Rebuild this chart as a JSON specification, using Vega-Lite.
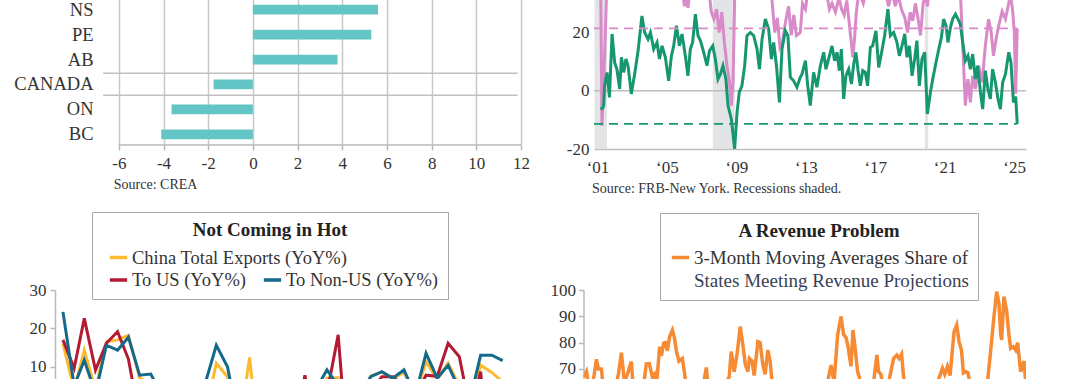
{
  "$schema": "https://vega.github.io/schema/vega-lite/v6.json",
  "background": "white",
  "padding": {"left": 10, "top": -1, "right": 0, "bottom": 0},
  "config": {
    "view": {"stroke": null},
    "font": "Liberation Serif",
    "axis": {"labelFont": "Liberation Serif", "titleFont": "Liberation Serif", "labelColor": "#333333", "labelFlush": false, "labelOverlap": false},
    "legend": {"labelFont": "Liberation Serif", "titleFont": "Liberation Serif"},
    "title": {"font": "Liberation Serif"}
  },
  "resolve": {"scale": {"color": "independent", "stroke": "independent"}, "legend": {"color": "independent", "stroke": "independent"}},
  "datasets": {
    "provinces": [
      {"province": "NS", "change": 5.6},
      {"province": "PE", "change": 5.3},
      {"province": "AB", "change": 3.79},
      {"province": "CANADA", "change": -1.76},
      {"province": "ON", "change": -3.64},
      {"province": "BC", "change": -4.1}
    ],
    "recessions": [
      {"start": 2001.12, "end": 2001.84},
      {"start": 2007.93, "end": 2009.2},
      {"start": 2020.15, "end": 2020.34}
    ],
    "green": [
      {"t": 2001.46, "v": -6.3}, {"t": 2001.58, "v": -6.0}, {"t": 2001.65, "v": -5.1}, {"t": 2001.70, "v": 1.7}, {"t": 2001.84, "v": 6.3},
      {"t": 2001.98, "v": -2.3}, {"t": 2002.13, "v": 19.5}, {"t": 2002.28, "v": 9.7}, {"t": 2002.41, "v": 7.4}, {"t": 2002.57, "v": 0.6},
      {"t": 2002.67, "v": 11.5}, {"t": 2002.80, "v": 6.3}, {"t": 2002.93, "v": 10.9}, {"t": 2003.05, "v": 8.6}, {"t": 2003.24, "v": -1.1},
      {"t": 2003.43, "v": 5.7}, {"t": 2003.62, "v": 13.2}, {"t": 2003.85, "v": 25.7}, {"t": 2004.01, "v": 20}, {"t": 2004.20, "v": 17.7},
      {"t": 2004.34, "v": 20}, {"t": 2004.53, "v": 14.3}, {"t": 2004.72, "v": 16.6}, {"t": 2004.86, "v": 10.9}, {"t": 2005.01, "v": 15.4},
      {"t": 2005.20, "v": 11.5}, {"t": 2005.39, "v": 3.4}, {"t": 2005.55, "v": 12}, {"t": 2005.68, "v": 15.4}, {"t": 2005.84, "v": 22.3},
      {"t": 2006.01, "v": 15.4}, {"t": 2006.16, "v": 19.5}, {"t": 2006.35, "v": 12}, {"t": 2006.50, "v": 5.1}, {"t": 2006.64, "v": 14.3},
      {"t": 2006.77, "v": 16.6}, {"t": 2006.93, "v": 26.3}, {"t": 2007.08, "v": 18.9}, {"t": 2007.22, "v": 17.2}, {"t": 2007.41, "v": 13.2},
      {"t": 2007.60, "v": 8.6}, {"t": 2007.74, "v": 13.7}, {"t": 2007.93, "v": 15.4}, {"t": 2008.08, "v": 10.9}, {"t": 2008.23, "v": 4},
      {"t": 2008.37, "v": 5.7}, {"t": 2008.52, "v": 8.6}, {"t": 2008.69, "v": 4}, {"t": 2008.81, "v": -5.1}, {"t": 2009.00, "v": -9.7},
      {"t": 2009.19, "v": -20}, {"t": 2009.33, "v": -7.4}, {"t": 2009.46, "v": -0.5}, {"t": 2009.61, "v": 1.7}, {"t": 2009.77, "v": 8.6},
      {"t": 2009.90, "v": 18.9}, {"t": 2010.10, "v": 20}, {"t": 2010.29, "v": 18.9}, {"t": 2010.48, "v": 14.3}, {"t": 2010.62, "v": 7.4},
      {"t": 2010.77, "v": 17.7}, {"t": 2010.96, "v": 24.6}, {"t": 2011.15, "v": 21.2}, {"t": 2011.31, "v": 10.9}, {"t": 2011.44, "v": 16.6},
      {"t": 2011.60, "v": 8.6}, {"t": 2011.77, "v": -4}, {"t": 2011.92, "v": 14.3}, {"t": 2012.11, "v": 20.6}, {"t": 2012.26, "v": 18.9},
      {"t": 2012.40, "v": 4.6}, {"t": 2012.59, "v": 3.4}, {"t": 2012.78, "v": 1.2}, {"t": 2012.97, "v": 4.6}, {"t": 2013.07, "v": 5.7},
      {"t": 2013.27, "v": 10.3}, {"t": 2013.40, "v": 1.7}, {"t": 2013.55, "v": -5.1}, {"t": 2013.74, "v": 6.3}, {"t": 2013.93, "v": 1.2},
      {"t": 2014.13, "v": 8.6}, {"t": 2014.32, "v": 13.2}, {"t": 2014.45, "v": 7.4}, {"t": 2014.65, "v": 12}, {"t": 2014.80, "v": 15.4},
      {"t": 2014.95, "v": 10.3}, {"t": 2015.09, "v": 13.2}, {"t": 2015.22, "v": 6.9}, {"t": 2015.34, "v": 14.3}, {"t": 2015.47, "v": -2.8},
      {"t": 2015.60, "v": 5.1}, {"t": 2015.76, "v": 7.4}, {"t": 2015.92, "v": 2.3}, {"t": 2016.05, "v": 9.2}, {"t": 2016.18, "v": 13.2},
      {"t": 2016.30, "v": 6.9}, {"t": 2016.43, "v": 1.7}, {"t": 2016.57, "v": 6.9}, {"t": 2016.72, "v": 6.3}, {"t": 2016.85, "v": 1.7},
      {"t": 2017.01, "v": 14.9}, {"t": 2017.14, "v": 15.4}, {"t": 2017.33, "v": 20.6}, {"t": 2017.49, "v": 8}, {"t": 2017.64, "v": 12.6},
      {"t": 2017.83, "v": 18.9}, {"t": 2018.02, "v": 28}, {"t": 2018.16, "v": 18.9}, {"t": 2018.35, "v": 20}, {"t": 2018.54, "v": 16.6},
      {"t": 2018.68, "v": 12}, {"t": 2018.83, "v": 15.4}, {"t": 2018.99, "v": 19.5}, {"t": 2019.12, "v": 11.5}, {"t": 2019.26, "v": 15.4},
      {"t": 2019.41, "v": 5.1}, {"t": 2019.56, "v": 10.9}, {"t": 2019.69, "v": 17.2}, {"t": 2019.83, "v": 1.7}, {"t": 2019.98, "v": 10.9},
      {"t": 2020.14, "v": 13.2}, {"t": 2020.29, "v": -8}, {"t": 2020.47, "v": -0.5}, {"t": 2020.62, "v": 4.6}, {"t": 2020.79, "v": 9.7},
      {"t": 2020.95, "v": 14.3}, {"t": 2021.10, "v": 18.3}, {"t": 2021.23, "v": 24.6}, {"t": 2021.37, "v": 22.3}, {"t": 2021.48, "v": 16.6},
      {"t": 2021.62, "v": 21.7}, {"t": 2021.75, "v": 24.6}, {"t": 2021.91, "v": 26.3}, {"t": 2022.06, "v": 24.6}, {"t": 2022.19, "v": 22.9},
      {"t": 2022.33, "v": 16.6}, {"t": 2022.48, "v": 10.3}, {"t": 2022.63, "v": 12}, {"t": 2022.77, "v": 7.4}, {"t": 2022.90, "v": 12.6},
      {"t": 2023.06, "v": 4}, {"t": 2023.19, "v": 8.6}, {"t": 2023.35, "v": -0.5}, {"t": 2023.48, "v": -6.3}, {"t": 2023.63, "v": 6.9},
      {"t": 2023.78, "v": 0.6}, {"t": 2023.92, "v": -2.8}, {"t": 2024.05, "v": 7.4}, {"t": 2024.21, "v": 2.9}, {"t": 2024.36, "v": -2.8},
      {"t": 2024.50, "v": -6.3}, {"t": 2024.63, "v": 2.9}, {"t": 2024.79, "v": 5.7}, {"t": 2024.98, "v": 13.2}, {"t": 2025.11, "v": 9.7},
      {"t": 2025.25, "v": -4}, {"t": 2025.38, "v": -2}, {"t": 2025.47, "v": -11.4}
    ],
    "pink": [
      {"t": 2001.46, "v": 45}, {"t": 2001.55, "v": -12}, {"t": 2001.70, "v": 12}, {"t": 2001.85, "v": 40}, {"t": 2002.5, "v": 50},
      {"t": 2003.5, "v": 45}, {"t": 2004.5, "v": 50}, {"t": 2005.5, "v": 42}, {"t": 2006.15, "v": 36}, {"t": 2006.30, "v": 29},
      {"t": 2006.40, "v": 32}, {"t": 2006.50, "v": 28.5}, {"t": 2006.65, "v": 36}, {"t": 2007.2, "v": 45}, {"t": 2007.70, "v": 35},
      {"t": 2007.85, "v": 27}, {"t": 2008.00, "v": 24.6}, {"t": 2008.15, "v": 28}, {"t": 2008.30, "v": 20}, {"t": 2008.45, "v": 27},
      {"t": 2008.60, "v": 16.6}, {"t": 2008.75, "v": 8.6}, {"t": 2008.90, "v": 2.9}, {"t": 2009.00, "v": -5.1}, {"t": 2009.10, "v": 3},
      {"t": 2009.22, "v": 40}, {"t": 2010.0, "v": 50}, {"t": 2010.8, "v": 45}, {"t": 2011.30, "v": 34}, {"t": 2011.50, "v": 20},
      {"t": 2011.65, "v": 25}, {"t": 2011.80, "v": 15}, {"t": 2011.95, "v": 17}, {"t": 2012.15, "v": 24.6}, {"t": 2012.30, "v": 29},
      {"t": 2012.45, "v": 19}, {"t": 2012.60, "v": 26}, {"t": 2012.75, "v": 18.9}, {"t": 2012.97, "v": 20}, {"t": 2013.10, "v": 30},
      {"t": 2013.27, "v": 28}, {"t": 2013.45, "v": 36}, {"t": 2014.0, "v": 36}, {"t": 2014.50, "v": 33}, {"t": 2014.65, "v": 28},
      {"t": 2014.80, "v": 30}, {"t": 2015.00, "v": 27}, {"t": 2015.20, "v": 32}, {"t": 2015.35, "v": 28}, {"t": 2015.50, "v": 26},
      {"t": 2015.65, "v": 31}, {"t": 2015.85, "v": 20}, {"t": 2016.00, "v": 11.5}, {"t": 2016.10, "v": 18}, {"t": 2016.20, "v": 27},
      {"t": 2016.35, "v": 34}, {"t": 2016.60, "v": 30}, {"t": 2016.80, "v": 35}, {"t": 2017.3, "v": 40}, {"t": 2017.95, "v": 32},
      {"t": 2018.05, "v": 29}, {"t": 2018.25, "v": 34}, {"t": 2018.45, "v": 29}, {"t": 2018.60, "v": 33}, {"t": 2018.80, "v": 28},
      {"t": 2019.00, "v": 25}, {"t": 2019.15, "v": 20}, {"t": 2019.30, "v": 27}, {"t": 2019.45, "v": 24}, {"t": 2019.60, "v": 30},
      {"t": 2019.75, "v": 25}, {"t": 2019.90, "v": 19}, {"t": 2020.05, "v": 30}, {"t": 2020.20, "v": 33}, {"t": 2020.30, "v": 29},
      {"t": 2020.45, "v": 40}, {"t": 2021.2, "v": 50}, {"t": 2022.10, "v": 40}, {"t": 2022.20, "v": 33}, {"t": 2022.38, "v": 8.6},
      {"t": 2022.48, "v": -5.1}, {"t": 2022.63, "v": 4}, {"t": 2022.77, "v": -4}, {"t": 2022.90, "v": 5.1}, {"t": 2023.06, "v": 0.6},
      {"t": 2023.25, "v": 8.6}, {"t": 2023.45, "v": 2.9}, {"t": 2023.63, "v": 15.4}, {"t": 2023.82, "v": 24.6}, {"t": 2023.97, "v": 20},
      {"t": 2024.10, "v": 12}, {"t": 2024.25, "v": 17.7}, {"t": 2024.40, "v": 22.3}, {"t": 2024.60, "v": 27.2}, {"t": 2024.79, "v": 24.6},
      {"t": 2024.95, "v": 29.2}, {"t": 2025.07, "v": 33}, {"t": 2025.20, "v": 28}, {"t": 2025.30, "v": 20}, {"t": 2025.38, "v": -1},
      {"t": 2025.47, "v": 21.4}
    ],
    "china": [
      {"month": "2022-01-01", "China Total Exports (YoY%)": 16, "To US (YoY%)": 17, "To Non-US (YoY%)": 24.3},
      {"month": "2022-02-01", "China Total Exports (YoY%)": 4, "To US (YoY%)": 9.6, "To Non-US (YoY%)": 5},
      {"month": "2022-03-01", "China Total Exports (YoY%)": 14.3, "To US (YoY%)": 22.6, "To Non-US (YoY%)": 11.7},
      {"month": "2022-04-01", "China Total Exports (YoY%)": 4, "To US (YoY%)": 9.1, "To Non-US (YoY%)": 3},
      {"month": "2022-05-01", "China Total Exports (YoY%)": 16.5, "To US (YoY%)": 16.1, "To Non-US (YoY%)": 15.6},
      {"month": "2022-06-01", "China Total Exports (YoY%)": 17, "To US (YoY%)": 19.1, "To Non-US (YoY%)": 14.3},
      {"month": "2022-07-01", "China Total Exports (YoY%)": 18.2, "To US (YoY%)": 12, "To Non-US (YoY%)": 17.7},
      {"month": "2022-08-01", "China Total Exports (YoY%)": 7, "To US (YoY%)": -3.8, "To Non-US (YoY%)": 7.8},
      {"month": "2022-09-01", "China Total Exports (YoY%)": 5.7, "To US (YoY%)": -11.6, "To Non-US (YoY%)": 8.1},
      {"month": "2022-10-01", "China Total Exports (YoY%)": -0.3, "To US (YoY%)": -12.6, "To Non-US (YoY%)": 2.5},
      {"month": "2022-11-01", "China Total Exports (YoY%)": -8.7, "To US (YoY%)": -25.4, "To Non-US (YoY%)": -4},
      {"month": "2022-12-01", "China Total Exports (YoY%)": -9.9, "To US (YoY%)": -19.5, "To Non-US (YoY%)": -7.5},
      {"month": "2023-01-01", "China Total Exports (YoY%)": -10, "To US (YoY%)": -21.8, "To Non-US (YoY%)": -6},
      {"month": "2023-02-01", "China Total Exports (YoY%)": -1.3, "To US (YoY%)": -16, "To Non-US (YoY%)": 6.5},
      {"month": "2023-03-01", "China Total Exports (YoY%)": 10.9, "To US (YoY%)": -7.7, "To Non-US (YoY%)": 15.6},
      {"month": "2023-04-01", "China Total Exports (YoY%)": 7.4, "To US (YoY%)": -6.5, "To Non-US (YoY%)": 10},
      {"month": "2023-05-01", "China Total Exports (YoY%)": -7.5, "To US (YoY%)": -18.2, "To Non-US (YoY%)": -4.5},
      {"month": "2023-06-01", "China Total Exports (YoY%)": 12.4, "To US (YoY%)": -23.7, "To Non-US (YoY%)": 3},
      {"month": "2023-07-01", "China Total Exports (YoY%)": -14.5, "To US (YoY%)": -23.1, "To Non-US (YoY%)": -12},
      {"month": "2023-08-01", "China Total Exports (YoY%)": -8.8, "To US (YoY%)": -9.5, "To Non-US (YoY%)": -8.6},
      {"month": "2023-09-01", "China Total Exports (YoY%)": -6.2, "To US (YoY%)": -9.3, "To Non-US (YoY%)": -5.5},
      {"month": "2023-10-01", "China Total Exports (YoY%)": -6.4, "To US (YoY%)": -8.2, "To Non-US (YoY%)": -6},
      {"month": "2023-11-01", "China Total Exports (YoY%)": 0.5, "To US (YoY%)": 7.8, "To Non-US (YoY%)": -1},
      {"month": "2023-12-01", "China Total Exports (YoY%)": 2.3, "To US (YoY%)": -6.9, "To Non-US (YoY%)": 4},
      {"month": "2024-01-01", "China Total Exports (YoY%)": 7, "To US (YoY%)": 3, "To Non-US (YoY%)": 9.2},
      {"month": "2024-02-01", "China Total Exports (YoY%)": 7.1, "To US (YoY%)": 18.3, "To Non-US (YoY%)": 5},
      {"month": "2024-03-01", "China Total Exports (YoY%)": -7.5, "To US (YoY%)": -15.8, "To Non-US (YoY%)": -5},
      {"month": "2024-04-01", "China Total Exports (YoY%)": 1.5, "To US (YoY%)": -2.8, "To Non-US (YoY%)": 2.6},
      {"month": "2024-05-01", "China Total Exports (YoY%)": 7.6, "To US (YoY%)": 3.6, "To Non-US (YoY%)": 7.4},
      {"month": "2024-06-01", "China Total Exports (YoY%)": 8.6, "To US (YoY%)": 7.4, "To Non-US (YoY%)": 8.7},
      {"month": "2024-07-01", "China Total Exports (YoY%)": 7, "To US (YoY%)": 7.4, "To Non-US (YoY%)": 7},
      {"month": "2024-08-01", "China Total Exports (YoY%)": 8.5, "To US (YoY%)": 4.9, "To Non-US (YoY%)": 9.2},
      {"month": "2024-09-01", "China Total Exports (YoY%)": 2.4, "To US (YoY%)": 2.2, "To Non-US (YoY%)": 2.5},
      {"month": "2024-10-01", "China Total Exports (YoY%)": 11.3, "To US (YoY%)": 7.8, "To Non-US (YoY%)": 13.5},
      {"month": "2024-11-01", "China Total Exports (YoY%)": 6.7, "To US (YoY%)": 7.5, "To Non-US (YoY%)": 7},
      {"month": "2024-12-01", "China Total Exports (YoY%)": 10.9, "To US (YoY%)": 16.1, "To Non-US (YoY%)": 10.4},
      {"month": "2025-01-01", "China Total Exports (YoY%)": 5, "To US (YoY%)": 12.6, "To Non-US (YoY%)": 4},
      {"month": "2025-02-01", "China Total Exports (YoY%)": 1, "To US (YoY%)": -2, "To Non-US (YoY%)": 2},
      {"month": "2025-03-01", "China Total Exports (YoY%)": 10.4, "To US (YoY%)": 8.7, "To Non-US (YoY%)": 13},
      {"month": "2025-04-01", "China Total Exports (YoY%)": 8.5, "To US (YoY%)": -21, "To Non-US (YoY%)": 13},
      {"month": "2025-05-01", "China Total Exports (YoY%)": 6, "To US (YoY%)": -34.5, "To Non-US (YoY%)": 11.6}
    ],
    "revenue": [
      {"t": 1990.04, "v": 67}, {"t": 1990.24, "v": 69}, {"t": 1990.48, "v": 62}, {"t": 1990.80, "v": 66}, {"t": 1991.04, "v": 73.7},
      {"t": 1991.20, "v": 70}, {"t": 1991.44, "v": 70}, {"t": 1991.60, "v": 62}, {"t": 1992.08, "v": 58}, {"t": 1992.56, "v": 63},
      {"t": 1992.80, "v": 68}, {"t": 1993.04, "v": 76.2}, {"t": 1993.28, "v": 65}, {"t": 1993.52, "v": 68}, {"t": 1993.84, "v": 72.8},
      {"t": 1994.00, "v": 62}, {"t": 1994.48, "v": 60}, {"t": 1994.88, "v": 66}, {"t": 1995.04, "v": 71.9}, {"t": 1995.28, "v": 72},
      {"t": 1995.52, "v": 67}, {"t": 1995.68, "v": 68}, {"t": 1995.84, "v": 63}, {"t": 1996.11, "v": 78.5}, {"t": 1996.25, "v": 75},
      {"t": 1996.43, "v": 79.8}, {"t": 1996.57, "v": 80}, {"t": 1996.73, "v": 76.9}, {"t": 1996.91, "v": 82.3}, {"t": 1997.13, "v": 84.8},
      {"t": 1997.29, "v": 82}, {"t": 1997.45, "v": 76.9}, {"t": 1997.66, "v": 73}, {"t": 1997.93, "v": 74}, {"t": 1998.09, "v": 69},
      {"t": 1998.25, "v": 63}, {"t": 1998.65, "v": 58}, {"t": 1999.21, "v": 62}, {"t": 1999.69, "v": 66}, {"t": 1999.85, "v": 70.6},
      {"t": 2000.01, "v": 63}, {"t": 2000.41, "v": 55}, {"t": 2000.89, "v": 60}, {"t": 2001.37, "v": 64}, {"t": 2001.69, "v": 67},
      {"t": 2001.85, "v": 76.6}, {"t": 2002.09, "v": 69}, {"t": 2002.33, "v": 76}, {"t": 2002.57, "v": 86.1}, {"t": 2002.79, "v": 79},
      {"t": 2002.99, "v": 71.5}, {"t": 2003.19, "v": 69}, {"t": 2003.31, "v": 74}, {"t": 2003.53, "v": 73}, {"t": 2003.69, "v": 67.5},
      {"t": 2003.99, "v": 80.4}, {"t": 2004.17, "v": 80}, {"t": 2004.39, "v": 71.5}, {"t": 2004.57, "v": 68}, {"t": 2004.79, "v": 77.2},
      {"t": 2004.97, "v": 73}, {"t": 2005.13, "v": 65}, {"t": 2005.53, "v": 58}, {"t": 2006.17, "v": 55}, {"t": 2006.81, "v": 60},
      {"t": 2007.45, "v": 57}, {"t": 2008.09, "v": 62}, {"t": 2008.65, "v": 58}, {"t": 2009.22, "v": 63}, {"t": 2009.62, "v": 66},
      {"t": 2009.86, "v": 71.5}, {"t": 2010.10, "v": 65}, {"t": 2010.39, "v": 83}, {"t": 2010.66, "v": 89.9}, {"t": 2010.87, "v": 83},
      {"t": 2011.06, "v": 82}, {"t": 2011.24, "v": 78}, {"t": 2011.46, "v": 71}, {"t": 2011.62, "v": 84.8}, {"t": 2011.80, "v": 77.5},
      {"t": 2011.99, "v": 69}, {"t": 2012.12, "v": 67}, {"t": 2012.26, "v": 63}, {"t": 2012.74, "v": 58}, {"t": 2013.22, "v": 63},
      {"t": 2013.54, "v": 75.3}, {"t": 2013.67, "v": 69}, {"t": 2013.86, "v": 68}, {"t": 2014.00, "v": 64}, {"t": 2014.34, "v": 62},
      {"t": 2014.66, "v": 69}, {"t": 2014.88, "v": 74}, {"t": 2015.14, "v": 75.3}, {"t": 2015.32, "v": 74}, {"t": 2015.52, "v": 75.7},
      {"t": 2015.68, "v": 67}, {"t": 2015.86, "v": 63}, {"t": 2016.42, "v": 57}, {"t": 2017.06, "v": 60}, {"t": 2017.70, "v": 58},
      {"t": 2018.26, "v": 63}, {"t": 2018.80, "v": 70.3}, {"t": 2018.98, "v": 68}, {"t": 2019.20, "v": 71}, {"t": 2019.41, "v": 67.5},
      {"t": 2019.73, "v": 84.2}, {"t": 2019.94, "v": 86.7}, {"t": 2020.13, "v": 80.4}, {"t": 2020.32, "v": 77.2}, {"t": 2020.48, "v": 68.5},
      {"t": 2020.66, "v": 69}, {"t": 2020.85, "v": 68.5}, {"t": 2021.06, "v": 63}, {"t": 2021.54, "v": 60}, {"t": 2021.87, "v": 64},
      {"t": 2022.43, "v": 66}, {"t": 2022.67, "v": 77.2}, {"t": 2022.93, "v": 89.9}, {"t": 2023.15, "v": 99.4}, {"t": 2023.33, "v": 94.8},
      {"t": 2023.47, "v": 83}, {"t": 2023.55, "v": 81}, {"t": 2023.73, "v": 97.5}, {"t": 2023.95, "v": 92}, {"t": 2024.13, "v": 83},
      {"t": 2024.27, "v": 77.8}, {"t": 2024.48, "v": 78.5}, {"t": 2024.67, "v": 77.2}, {"t": 2024.83, "v": 80}, {"t": 2025.07, "v": 69},
      {"t": 2025.35, "v": 73}, {"t": 2025.49, "v": 64}
    ]
  },
  "spacing": 15,
  "vconcat": [
    {
      "spacing": 31,
      "resolve": {"scale": {"color": "independent", "stroke": "independent"}, "legend": {"color": "independent", "stroke": "independent"}},
      "hconcat": [
        {
          "width": 466,
          "height": 146,
          "title": {"text": "Source: CREA", "orient": "bottom", "anchor": "start", "frame": "group", "fontSize": 14, "fontWeight": "normal", "color": "#333333", "offset": 7, "dx": 58.8},
          "layer": [
            {
              "data": {"name": "provinces"},
              "mark": {"type": "bar", "color": "#63c5c6"},
              "encoding": {
                "y": {"field": "province", "type": "nominal", "title": null, "sort": ["NS", "PE", "AB", "CANADA", "ON", "BC"],
                      "scale": {"paddingInner": 0.61, "paddingOuter": 0.235},
                      "axis": {"domain": false, "ticks": false, "labelFontSize": 18.5, "labelPadding": -38, "minExtent": 45, "labelColor": "#333333"}},
                "x": {"field": "change", "type": "quantitative", "title": null,
                      "scale": {"domain": [-8.856, 12], "nice": false, "zero": false},
                      "axis": {"values": [-6, -4, -2, 0, 2, 4, 6, 8, 10, 12], "labelExpr": "toString(datum.value)", "grid": true, "gridColor": "#c8c8c8", "gridWidth": 1.5,
                               "domain": false, "tickColor": "#b8b8b8", "tickWidth": 1.5, "tickSize": 5,
                               "labelFontSize": 17, "labelPadding": 5}}
              }
            },
            {
              "data": {"values": [{"province": "CANADA", "from": -6.7, "to": 11.85}]},
              "mark": {"type": "rule", "color": "#c0c0c0", "strokeWidth": 1.5, "clip": false},
              "encoding": {
                "y": {"field": "province", "type": "nominal", "title": null, "sort": ["NS", "PE", "AB", "CANADA", "ON", "BC"], "bandPosition": -0.65},
                "x": {"field": "from", "type": "quantitative", "title": null},
                "x2": {"field": "to"}
              }
            },
            {
              "data": {"values": [{"province": "CANADA", "from": -6.7, "to": 11.85}]},
              "mark": {"type": "rule", "color": "#c0c0c0", "strokeWidth": 1.5, "clip": false},
              "encoding": {
                "y": {"field": "province", "type": "nominal", "title": null, "sort": ["NS", "PE", "AB", "CANADA", "ON", "BC"], "bandPosition": 1.6},
                "x": {"field": "from", "type": "quantitative", "title": null},
                "x2": {"field": "to"}
              }
            },
            {
              "data": {"values": [{"province": "BC", "from": -6, "to": 12}]},
              "mark": {"type": "rule", "color": "#b8b8b8", "strokeWidth": 1.5, "clip": false},
              "encoding": {
                "y": {"field": "province", "type": "nominal", "title": null, "sort": ["NS", "PE", "AB", "CANADA", "ON", "BC"], "bandPosition": 1.61},
                "x": {"field": "from", "type": "quantitative", "title": null},
                "x2": {"field": "to"}
              }
            }
          ]
        },
        {
          "width": 432.1,
          "height": 150,
          "title": {"text": "Source: FRB-New York. Recessions shaded.", "orient": "bottom", "anchor": "start", "frame": "group", "fontSize": 14, "fontWeight": "normal", "color": "#333333", "offset": 7, "dx": -2},
          "layer": [
            {
              "data": {"name": "recessions"},
              "mark": {"type": "rect", "color": "#e3e4e6"},
              "encoding": {
                "x": {"field": "start", "type": "quantitative", "title": null,
                      "scale": {"domain": [2001.09, 2025.98], "nice": false, "zero": false},
                      "axis": {"values": [2001.29, 2005.29, 2009.29, 2013.29, 2017.29, 2021.29, 2025.29],
                               "labelExpr": "'‘' + substring(toString(floor(datum.value)), 2, 4)",
                               "grid": false, "ticks": false, "domainColor": "#c0c0c0", "domainWidth": 1.5,
                               "labelFontSize": 17, "labelPadding": 10}},
                "x2": {"field": "end"}
              }
            },
            {
              "data": {"values": [{"v": 0}]},
              "mark": {"type": "rule", "color": "#bdbdbd", "strokeWidth": 1.5},
              "encoding": {
                "y": {"field": "v", "type": "quantitative", "title": null,
                      "scale": {"domain": [-20, 31.5], "nice": false, "zero": false},
                      "axis": {"values": [-20, -10, 0, 10, 20, 30], "labelExpr": "toString(datum.value)", "grid": false, "ticks": false, "domain": false,
                               "labelFontSize": 17, "labelPadding": 5, "minExtent": 32.7}}
              }
            },
            {
              "data": {"name": "pink"},
              "mark": {"type": "line", "color": "#d98ac9", "strokeWidth": 3, "clip": true},
              "encoding": {
                "x": {"field": "t", "type": "quantitative", "title": null},
                "y": {"field": "v", "type": "quantitative", "title": null}
              }
            },
            {
              "data": {"name": "green"},
              "mark": {"type": "line", "color": "#16976f", "strokeWidth": 3, "clip": true},
              "encoding": {
                "x": {"field": "t", "type": "quantitative", "title": null},
                "y": {"field": "v", "type": "quantitative", "title": null}
              }
            },
            {
              "data": {"values": [{"v": 21.4, "a": 2001.09, "b": 2025.47}]},
              "mark": {"type": "rule", "color": "#d98ac9", "strokeWidth": 1.8, "strokeDash": [9, 6]},
              "encoding": {
                "y": {"field": "v", "type": "quantitative", "title": null},
                "x": {"field": "a", "type": "quantitative", "title": null},
                "x2": {"field": "b"}
              }
            },
            {
              "data": {"values": [{"v": -11.4, "a": 2001.09, "b": 2025.47}]},
              "mark": {"type": "rule", "color": "#16976f", "strokeWidth": 1.8, "strokeDash": [9, 6]},
              "encoding": {
                "y": {"field": "v", "type": "quantitative", "title": null},
                "x": {"field": "a", "type": "quantitative", "title": null},
                "x2": {"field": "b"}
              }
            }
          ]
        }
      ]
    },
    {
      "spacing": 38.5,
      "resolve": {"scale": {"color": "independent", "stroke": "independent"}, "legend": {"color": "independent", "stroke": "independent"}},
      "hconcat": [
        {
          "width": 453.5,
          "height": 89,
          "data": {"name": "china"},
          "encoding": {
            "x": {"field": "month", "type": "temporal", "title": null,
                  "scale": {"domain": [{"year": 2021, "month": 12, "date": 10}, {"year": 2025, "month": 5, "date": 17}]},
                  "axis": null}
          },
          "layer": [
            {
              "transform": [{"fold": ["China Total Exports (YoY%)"], "as": ["series", "value"]}],
              "mark": {"type": "line", "strokeWidth": 3, "clip": true},
              "encoding": {
                "y": {"field": "value", "type": "quantitative", "title": null,
                      "scale": {"domain": [6.8, 30], "nice": false, "zero": false},
                      "axis": {"values": [10, 20, 30], "grid": false, "domainColor": "#b8b8b8", "domainWidth": 1.5,
                               "tickColor": "#b8b8b8", "tickWidth": 1.5, "tickSize": 5, "labelFontSize": 17, "labelPadding": 4, "minExtent": 45}},
                "stroke": {"field": "series", "type": "nominal",
                           "scale": {"domain": ["China Total Exports (YoY%)"], "range": ["#fdb92f"]},
                           "legend": {"orient": "none", "legendX": 46, "legendY": -43, "title": null,
                                      "labelFontSize": 18.5, "labelColor": "#333333", "labelOffset": 3, "labelLimit": 400,
                                      "symbolType": "stroke", "symbolSize": 300, "symbolStrokeWidth": 3.5, "symbolOffset": 7,
                                      "padding": 0}}
              }
            },
            {
              "transform": [{"fold": ["To US (YoY%)", "To Non-US (YoY%)"], "as": ["series", "value"]}],
              "mark": {"type": "line", "strokeWidth": 3, "clip": true},
              "encoding": {
                "y": {"field": "value", "type": "quantitative", "title": null,
                      "axis": {"values": [10, 20, 30], "grid": false, "domainColor": "#b8b8b8", "domainWidth": 1.5,
                               "tickColor": "#b8b8b8", "tickWidth": 1.5, "tickSize": 5, "labelFontSize": 17, "labelPadding": 4, "minExtent": 45}},
                "color": {"field": "series", "type": "nominal",
                          "scale": {"domain": ["To US (YoY%)", "To Non-US (YoY%)"], "range": ["#b31b34", "#136a8a"]},
                          "legend": {"orient": "none", "legendX": 37, "legendY": -78, "title": "Not Coming in Hot",
                                     "titleFontSize": 19, "titleFontWeight": "bold", "titleAnchor": "middle", "titleAlign": "center", "titleColor": "#222222", "titlePadding": 29.5,
                                     "labelFontSize": 18.5, "labelColor": "#333333", "labelOffset": 3, "labelLimit": 400,
                                     "direction": "horizontal", "columnPadding": 8,
                                     "symbolType": "stroke", "symbolSize": 300, "symbolStrokeWidth": 3.5, "symbolOffset": 7,
                                     "padding": 9, "strokeColor": "#a8a8a8"}}
              }
            }
          ]
        },
        {
          "width": 442.5,
          "height": 89,
          "data": {"name": "revenue"},
          "encoding": {
            "x": {"field": "t", "type": "quantitative", "title": null,
                  "scale": {"domain": [1990, 2025.5], "nice": false, "zero": false}, "axis": null}
          },
          "layer": [
            {
              "mark": {"type": "line", "strokeWidth": 3.5, "clip": true},
              "encoding": {
                "y": {"field": "v", "type": "quantitative", "title": null,
                      "scale": {"domain": [66.2, 100], "nice": false, "zero": false},
                      "axis": {"values": [70, 80, 90, 100], "grid": false, "domainColor": "#b8b8b8", "domainWidth": 1.5,
                               "tickColor": "#b8b8b8", "tickWidth": 1.5, "tickSize": 5, "labelFontSize": 17, "labelPadding": 3, "minExtent": 36}},
                "color": {"datum": "3-Month Moving Averages Share of", "type": "nominal",
                          "scale": {"domain": ["3-Month Moving Averages Share of"], "range": ["#f68b33"]},
                          "legend": {"orient": "none", "legendX": 85.5, "legendY": -43, "title": null,
                                     "labelFontSize": 19, "labelColor": "#333333", "labelOffset": 3, "labelLimit": 400,
                                     "symbolType": "stroke", "symbolSize": 300, "symbolStrokeWidth": 3.5, "symbolOffset": 1,
                                     "padding": 0}}
              }
            },
            {
              "mark": {"type": "line", "strokeWidth": 1, "strokeOpacity": 0, "clip": true},
              "encoding": {
                "y": {"field": "v", "type": "quantitative", "title": null,
                      "axis": {"values": [70, 80, 90, 100], "grid": false, "domainColor": "#b8b8b8", "domainWidth": 1.5,
                               "tickColor": "#b8b8b8", "tickWidth": 1.5, "tickSize": 5, "labelFontSize": 17, "labelPadding": 3, "minExtent": 36}},
                "stroke": {"datum": "States Meeting Revenue Projections", "type": "nominal",
                           "scale": {"domain": ["States Meeting Revenue Projections"], "range": ["transparent"]},
                           "legend": {"orient": "none", "legendX": 76.5, "legendY": -77, "title": "A Revenue Problem",
                                      "titleFontSize": 19, "titleFontWeight": "bold", "titleAnchor": "middle", "titleAlign": "center", "titleColor": "#222222", "titlePadding": 29.5,
                                      "labelFontSize": 19, "labelColor": "#3a3f55", "labelOffset": 3, "labelLimit": 500,
                                      "symbolType": "stroke", "symbolSize": 300, "symbolStrokeWidth": 3.5, "symbolOffset": 1,
                                      "padding": 9, "strokeColor": "#a8a8a8"}}
              }
            }
          ]
        }
      ]
    }
  ]
}
